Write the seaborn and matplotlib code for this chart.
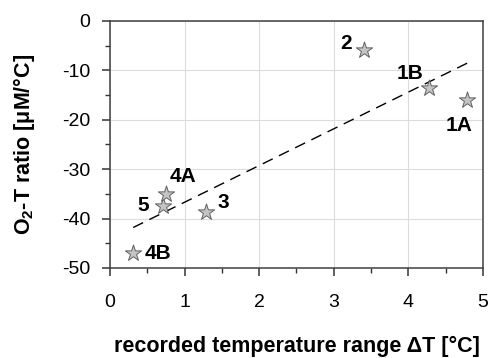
import numpy as np
import pandas as pd
import matplotlib
matplotlib.use("Agg")
import matplotlib.pyplot as plt
from matplotlib.ticker import MultipleLocator
import seaborn as sns

# values
sites = ["4B", "5", "4A", "3", "2", "1B", "1A"]
temp_range = [0.31, 0.71, 0.75, 1.29, 3.40, 4.28, 4.79]
o2_t_ratio = [-47.0, -37.4, -35.0, -38.6, -5.9, -13.6, -15.9]
label_offsets = [(25, 0), (-20, 0), (17, 17), (17, 9), (-18, 7), (-19, 15), (-8, -26)]

sns.set_style("whitegrid")
plt.rcParams["font.family"] = ["Liberation Sans", "DejaVu Sans"]
plt.rcParams["mathtext.fontset"] = "custom"
plt.rcParams["mathtext.rm"] = "Liberation Sans"
plt.rcParams["mathtext.bf"] = "Liberation Sans:bold"
plt.rcParams["axes.unicode_minus"] = False
plt.rcParams["text.color"] = "black"
plt.rcParams["axes.labelcolor"] = "black"
plt.rcParams["xtick.color"] = "black"
plt.rcParams["ytick.color"] = "black"

df = pd.DataFrame({"site": sites, "dT": temp_range, "ratio": o2_t_ratio})

fig = plt.figure(figsize=(4.9, 3.58), dpi=100)
ax = fig.add_axes([0.2245, 0.2514, 0.7612, 0.69])

# dashed least-squares line across the data range
sns.regplot(x="dT", y="ratio", data=df, ax=ax, scatter=False, ci=None, truncate=True,
            line_kws={"color": "black", "lw": 1.0, "ls": (0, (8, 5))})
sns.scatterplot(x="dT", y="ratio", data=df, ax=ax, marker="*", s=150,
                color="#c4c4c4", edgecolor="#606060", linewidth=0.7, zorder=3)

for name, x, y, off in zip(sites, temp_range, o2_t_ratio, label_offsets):
    ax.annotate(name, (x, y), xytext=off, textcoords="offset pixels",
                ha="center", va="center", fontsize=15, fontweight="bold")

ax.set_xlim(0, 5)
ax.set_ylim(-50, 0)
ax.xaxis.set_major_locator(MultipleLocator(1))
ax.xaxis.set_minor_locator(MultipleLocator(0.5))
ax.yaxis.set_major_locator(MultipleLocator(10))
ax.yaxis.set_minor_locator(MultipleLocator(5))
ax.grid(True, which="major", color="#dcdcdc", lw=0.8)
ax.grid(False, which="minor")
ax.tick_params(which="major", direction="out", length=6, width=1.1, color="#333333",
               labelsize=14, bottom=True, left=True)
ax.tick_params(axis="x", which="major", pad=13)
ax.tick_params(axis="y", which="major", pad=8)
ax.tick_params(which="minor", direction="out", length=3.5, width=1.0, color="#333333",
               bottom=True, left=True)
for sp in ax.spines.values():
    sp.set_color("#404040")
    sp.set_linewidth(1.1)

ax.set_xlabel("recorded temperature range ΔT [°C]", fontsize=15.5, fontweight="bold", labelpad=18)
ax.set_ylabel(r"O$_\mathbf{2}$-T ratio [μM/°C]", fontsize=15.5, fontweight="bold", labelpad=18)

fig.savefig("out.png", dpi=100)
